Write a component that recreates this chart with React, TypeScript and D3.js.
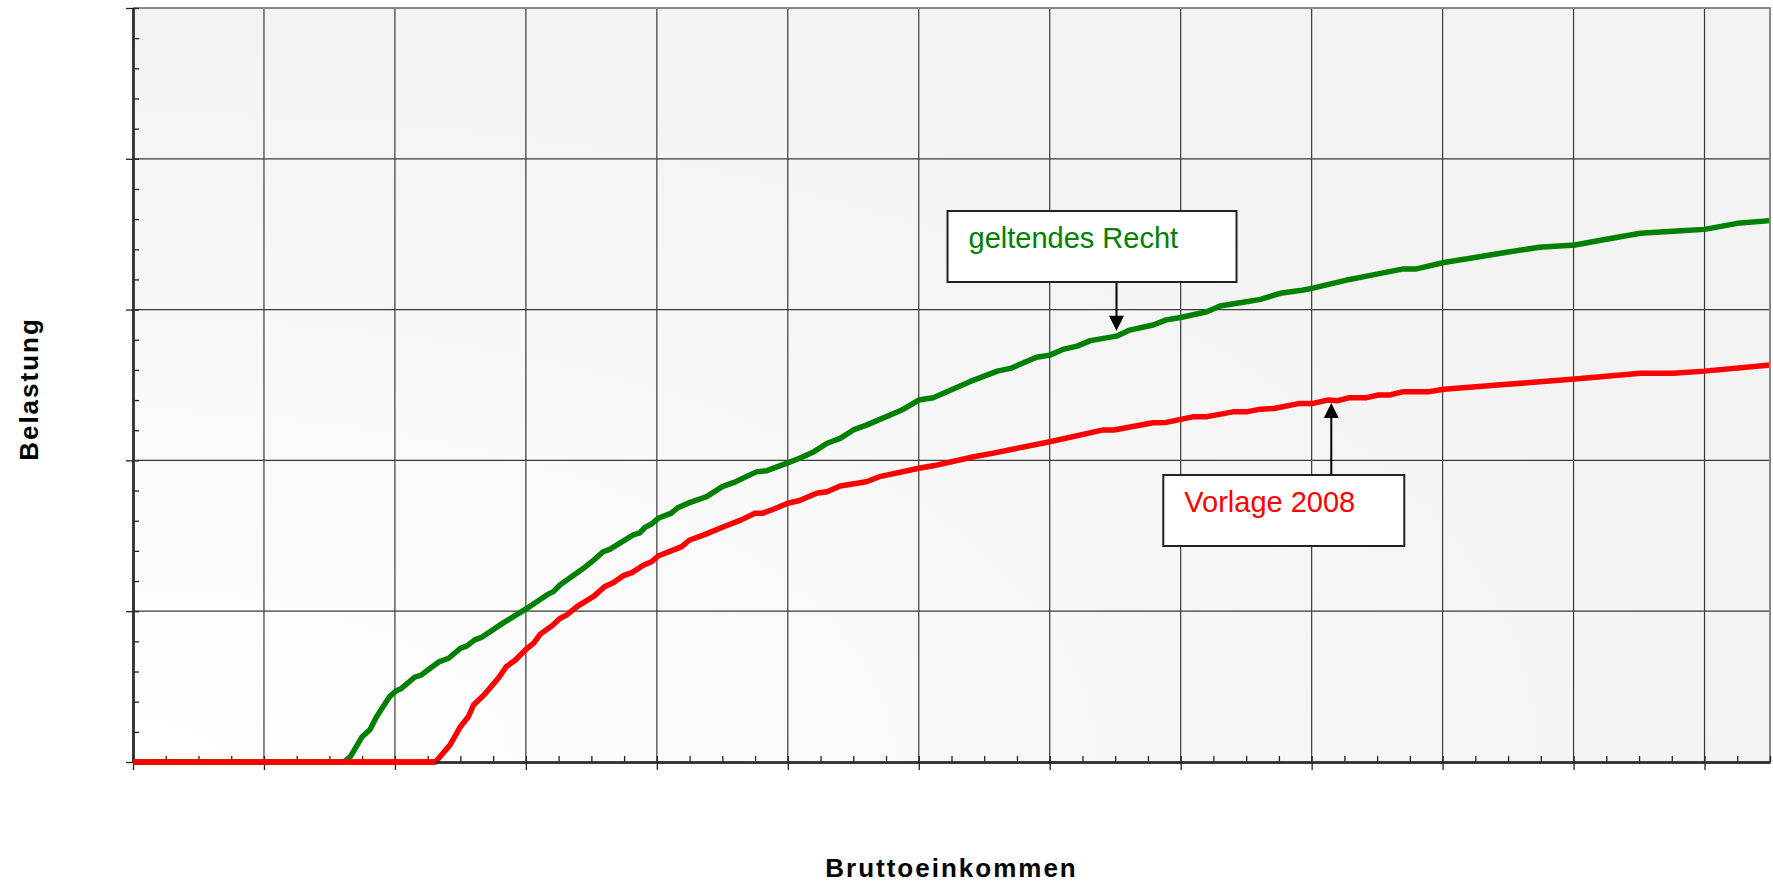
import * as d3 from "d3";
import {useEffect, useRef} from "react";

// Bruttoeinkommen (in 1000) / Belastung (%)
const geltendX = [0, 16.1, 16.6, 17.5, 18.1, 18.6, 19.6, 20.1, 20.5, 21.5, 22.0, 22.7, 23.4, 24.1, 25.0, 25.5, 26.1, 26.6, 28.3, 30.1, 31.6, 32.1, 32.6, 34.4, 35.2, 35.9, 36.4, 38.2, 38.7, 39.1, 39.6, 40.1, 41.1, 41.6, 42.5, 43.8, 45.0, 46.0, 47.6, 48.4, 49.9, 50.9, 52.0, 53.0, 54.0, 55.0, 56.0, 58.8, 60.0, 61.1, 63.9, 66.0, 67.0, 69.0, 70.0, 71.0, 72.1, 73.1, 75.1, 76.1, 77.9, 78.9, 80.0, 82.0, 83.0, 85.0, 86.1, 87.6, 89.1, 90.1, 92.9, 94.2, 97.0, 98.0, 100.1, 104.9, 107.4, 110.1, 112.5, 115.1, 117.6, 120.0, 122.5, 125.0];
const geltendY = [0, 0, 0.18, 0.84, 1.08, 1.5, 2.17, 2.36, 2.44, 2.81, 2.88, 3.11, 3.33, 3.44, 3.77, 3.85, 4.05, 4.13, 4.62, 5.1, 5.54, 5.65, 5.87, 6.42, 6.7, 6.97, 7.05, 7.53, 7.6, 7.78, 7.89, 8.08, 8.25, 8.43, 8.6, 8.8, 9.13, 9.29, 9.62, 9.66, 9.9, 10.07, 10.29, 10.57, 10.73, 11.01, 11.17, 11.69, 12.0, 12.08, 12.61, 12.96, 13.05, 13.42, 13.49, 13.68, 13.79, 13.97, 14.12, 14.32, 14.49, 14.66, 14.74, 14.93, 15.12, 15.26, 15.34, 15.54, 15.63, 15.71, 16.0, 16.11, 16.35, 16.35, 16.56, 16.9, 17.07, 17.14, 17.33, 17.53, 17.6, 17.66, 17.86, 17.95];

const vorlageX = [0, 23.1, 24.2, 25.0, 25.6, 26.0, 26.8, 27.9, 28.5, 29.2, 30.1, 30.6, 31.1, 32.0, 32.6, 33.1, 33.9, 35.2, 36.0, 36.7, 37.4, 38.1, 39.0, 39.6, 40.1, 41.9, 42.5, 43.6, 45.1, 46.4, 47.5, 48.1, 48.9, 50.0, 50.9, 52.2, 53.0, 54.0, 56.0, 57.0, 60.0, 61.1, 64.2, 65.7, 70.0, 74.1, 74.9, 77.9, 78.9, 81.0, 82.0, 84.0, 85.0, 86.1, 87.1, 89.1, 90.1, 91.2, 92.0, 92.9, 94.2, 95.1, 96.0, 97.0, 99.0, 100.1, 105.2, 110.1, 115.1, 117.6, 120.0, 125.0];
const vorlageY = [0, 0, 0.56, 1.17, 1.5, 1.89, 2.22, 2.78, 3.16, 3.38, 3.77, 3.94, 4.24, 4.52, 4.76, 4.87, 5.15, 5.5, 5.81, 5.95, 6.17, 6.28, 6.53, 6.64, 6.83, 7.14, 7.36, 7.53, 7.8, 8.02, 8.25, 8.25, 8.38, 8.58, 8.67, 8.91, 8.96, 9.15, 9.29, 9.46, 9.74, 9.82, 10.12, 10.24, 10.62, 11.01, 11.01, 11.25, 11.26, 11.45, 11.45, 11.61, 11.61, 11.7, 11.72, 11.89, 11.89, 12.0, 11.98, 12.08, 12.08, 12.17, 12.17, 12.28, 12.28, 12.36, 12.53, 12.7, 12.89, 12.89, 12.96, 13.16];

const xMajor = d3.range(0, 121, 10);
const xMinor = d3.range(0, 125.1, 2.5);
const yMajor = d3.range(0, 26, 5);
const yMinor = d3.range(0, 26, 1);

const seriesNames = ["geltendes Recht", "Vorlage 2008"];
const seriesColors = ["#008000", "#ff0000"];
// data point each label arrow points at
const labelAnchorX = [75.1, 91.5];
const labelAnchorY = [14.3, 11.9];

const W = 1773, H = 884;
const margin = {top: 8, right: 3, bottom: 122, left: 133};
const FONT = "'Liberation Sans', Arial, sans-serif";

const App = () => {
    const svgRef = useRef<SVGSVGElement>(null);

    useEffect(() => {
        if (!svgRef.current) return;
        const root = d3.select(svgRef.current);
        root.selectAll("*").remove();

        const x = d3.scaleLinear().domain([0, 125]).range([margin.left, W - margin.right]);
        const y = d3.scaleLinear().domain([0, 25]).range([H - margin.bottom, margin.top]);
        const [x0, x1] = x.range();
        const [y0, y1] = y.range();

        // plot background, lighter toward the lower left corner
        const defs = root.append("defs");
        const grad = defs.append("radialGradient")
            .attr("id", "bg").attr("cx", 0).attr("cy", 1).attr("r", 1).attr("fx", 0).attr("fy", 1);
        grad.append("stop").attr("offset", 0).attr("stop-color", "#ffffff");
        grad.append("stop").attr("offset", 0.55).attr("stop-color", "#f8f8f8");
        grad.append("stop").attr("offset", 1).attr("stop-color", "#f3f3f3");

        root.append("rect")
            .attr("x", x0).attr("y", y1).attr("width", x1 - x0).attr("height", y0 - y1)
            .attr("fill", "url(#bg)");

        // grid
        root.append("g")
            .selectAll("line")
            .data(xMajor.slice(1))
            .join("line")
            .attr("x1", d => x(d)).attr("x2", d => x(d))
            .attr("y1", y1).attr("y2", y0)
            .attr("stroke", "#3a3a3a").attr("stroke-width", 1.2);
        root.append("g")
            .selectAll("line")
            .data(yMajor.slice(1, -1))
            .join("line")
            .attr("x1", x0).attr("x2", x1)
            .attr("y1", d => y(d)).attr("y2", d => y(d))
            .attr("stroke", "#3a3a3a").attr("stroke-width", 1.2);

        // curves
        const series = [
            {xs: geltendX, ys: geltendY},
            {xs: vorlageX, ys: vorlageY},
        ];
        series.forEach((s, k) => {
            const pts: [number, number][] = s.xs.map((v, i) => [x(v), y(s.ys[i])]);
            root.append("path")
                .attr("d", d3.line()(pts))
                .attr("fill", "none")
                .attr("stroke", seriesColors[k])
                .attr("stroke-width", 5.5)
                .attr("stroke-linejoin", "round");
        });

        // frame top/right
        root.append("path")
            .attr("d", `M${x0},${y1}H${x1}V${y0}`)
            .attr("fill", "none").attr("stroke", "#888").attr("stroke-width", 2);

        // y axis: minor ticks inside, major ticks crossing
        const yAxis = root.append("g").attr("transform", `translate(${x0},0)`);
        yAxis.call(d3.axisLeft(y).tickValues(yMinor).tickSizeInner(-6).tickSizeOuter(0).tickFormat(() => ""));
        yAxis.append("g").call(d3.axisLeft(y).tickValues(yMajor).tickSizeInner(7).tickSizeOuter(0).tickFormat(() => ""));
        yAxis.selectAll("path.domain").attr("stroke", "#333").attr("stroke-width", 2.5);
        yAxis.selectAll(".tick line").attr("stroke", "#222").attr("stroke-width", 1.3);

        // x axis
        const xAxis = root.append("g").attr("transform", `translate(0,${y0})`);
        xAxis.call(d3.axisBottom(x).tickValues(xMinor).tickSizeInner(-6).tickSizeOuter(0).tickFormat(() => ""));
        xAxis.append("g").call(d3.axisBottom(x).tickValues(xMajor).tickSizeInner(8).tickSizeOuter(0).tickFormat(() => ""));
        xAxis.selectAll("path.domain").attr("stroke", "#333").attr("stroke-width", 2.5);
        xAxis.selectAll(".tick line").attr("stroke", "#222").attr("stroke-width", 1.3);

        // zero segments sit on top of the bottom axis; red hides the green one
        series.forEach((s, k) => {
            const flat = s.xs.filter((_, i) => s.ys[i] === 0);
            root.append("line")
                .attr("x1", x(flat[0])).attr("x2", x(flat[flat.length - 1]))
                .attr("y1", y(0)).attr("y2", y(0))
                .attr("stroke", seriesColors[k]).attr("stroke-width", 5.5);
        });

        // labels with arrows
        const boxes = [
            {dx: -169, w: 289, top: 211, h: 71, textDx: 21, base: 37},
            {dx: -168, w: 241, top: 475, h: 71, textDx: 21, base: 37},
        ];
        boxes.forEach((b, k) => {
            const ax = x(labelAnchorX[k]);
            const ay = y(labelAnchorY[k]);
            const bx = ax + b.dx;
            const boxAbove = b.top < ay;
            const startY = boxAbove ? b.top + b.h : b.top;
            const dir = boxAbove ? -1 : 1; // from tip toward the box
            const g = root.append("g");
            g.append("line")
                .attr("x1", ax).attr("x2", ax)
                .attr("y1", startY).attr("y2", ay + dir * 14)
                .attr("stroke", "#000").attr("stroke-width", 2);
            g.append("path")
                .attr("d", `M${ax},${ay}L${ax - 7.5},${ay + dir * 15}L${ax + 7.5},${ay + dir * 15}Z`)
                .attr("fill", "#000");
            g.append("rect")
                .attr("x", bx).attr("y", b.top).attr("width", b.w).attr("height", b.h)
                .attr("fill", "#fff").attr("stroke", "#222").attr("stroke-width", 2);
            g.append("text")
                .attr("x", bx + b.textDx).attr("y", b.top + b.base)
                .attr("fill", seriesColors[k])
                .attr("font-family", FONT).attr("font-size", 29)
                .text(seriesNames[k]);
        });

        // axis titles
        root.append("text")
            .attr("x", (x0 + x1) / 2).attr("y", 877)
            .attr("text-anchor", "middle")
            .attr("font-family", FONT).attr("font-size", 26).attr("font-weight", "bold")
            .attr("letter-spacing", 2)
            .text("Bruttoeinkommen");
        root.append("text")
            .attr("transform", `translate(38,${(y0 + y1) / 2 + 4}) rotate(-90)`)
            .attr("text-anchor", "middle")
            .attr("font-family", FONT).attr("font-size", 26).attr("font-weight", "bold")
            .attr("letter-spacing", 2)
            .text("Belastung");
    }, []);

    return <svg ref={svgRef} width={W} height={H}
                style={{position: "absolute", left: 0, top: 0, background: "#fff"}}/>;
};

export default App;
